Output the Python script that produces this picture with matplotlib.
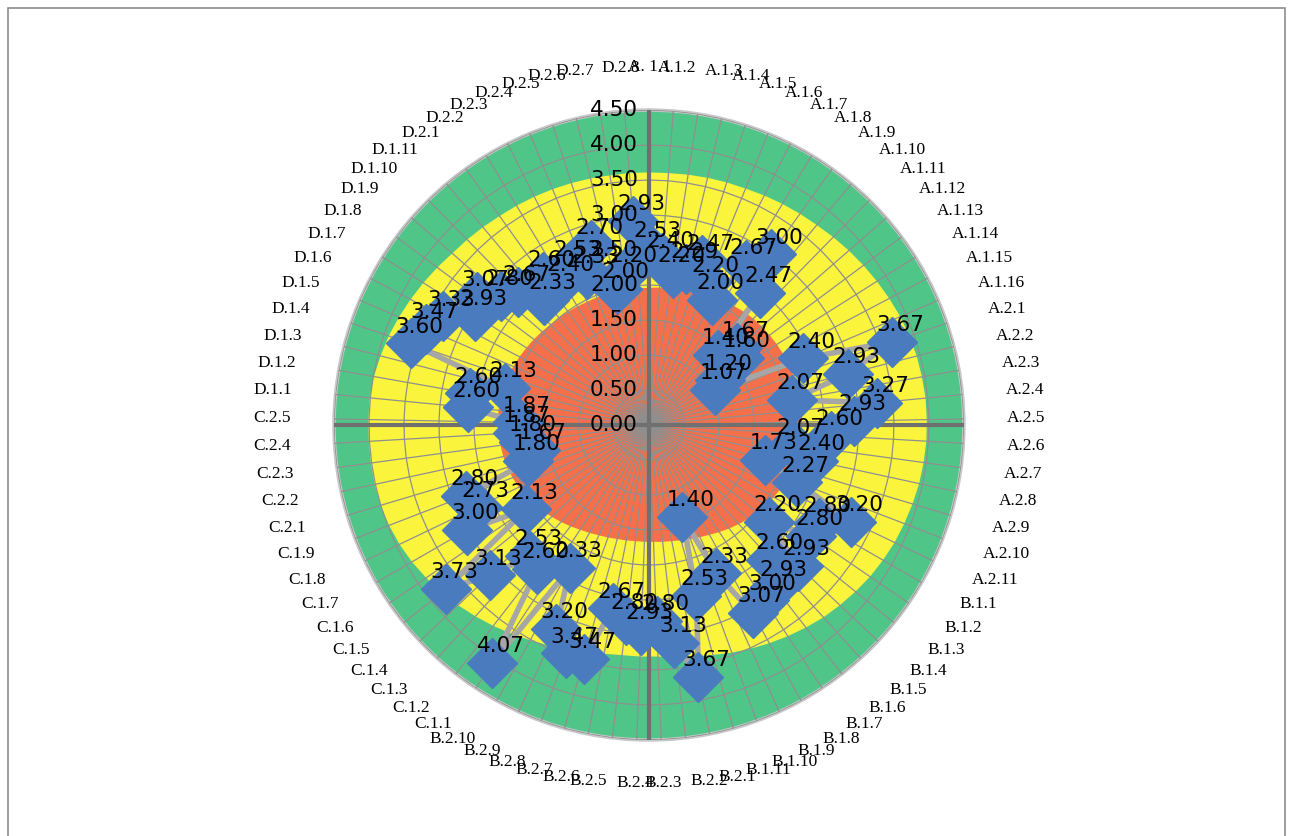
import numpy as np
import matplotlib.pyplot as plt
from matplotlib.patches import Rectangle

# --- categories (clockwise from top) ---
groups = [("A.1", 16), ("A.2", 11), ("B.1", 11), ("B.2", 10),
          ("C.1", 9), ("C.2", 5), ("D.1", 11), ("D.2", 8)]
categories = [f"{g}.{i}" for g, n in groups for i in range(1, n + 1)]
categories[0] = "A. 1.1"

# --- scores ---
a1 = [2.53, 2.40, 2.20, 2.29, 2.47, 2.20, 2.00, 2.67, 3.00, 2.47, 1.40, 1.67, 1.60, 1.20, 1.07, 2.40]
a2 = [3.67, 2.93, 2.07, 3.27, 2.93, 2.60, 2.07, 2.40, 1.73, 2.27, 3.20]
b1 = [2.80, 2.80, 2.20, 2.93, 2.60, 2.93, 3.00, 3.07, 2.33, 1.40, 2.53]
b2 = [3.67, 3.13, 2.80, 2.93, 2.80, 2.67, 3.47, 3.47, 3.20, 2.33]
c1 = [4.07, 2.60, 2.53, 3.13, 3.73, 2.13, 3.00, 2.73, 2.80]
c2 = [1.80, 1.67, 1.80, 1.87, 1.87]
d1 = [2.60, 2.60, 2.13, 3.60, 3.47, 3.33, 2.93, 3.07, 2.80, 2.67, 2.33]
d2 = [2.60, 2.40, 2.53, 2.33, 2.70, 2.00, 2.20, 2.93]
scores = a1 + a2 + b1 + b2 + c1 + c2 + d1 + d2

# --- background bands (red / yellow limits per category, green up to 4.5) ---
red_lim = [1.95, 1.96, 1.97, 1.98, 2.00, 2.02, 2.04, 2.06, 2.08, 2.10, 2.12, 2.13, 2.14, 2.15, 2.16, 2.17,
           2.17, 2.18, 2.18, 2.18, 2.18, 2.17, 2.16, 2.15, 2.13, 2.11, 2.08,
           2.05, 2.02, 1.98, 1.94, 1.90, 1.86, 1.82, 1.78, 1.75, 1.72, 1.70,
           1.68, 1.67, 1.66, 1.66, 1.66, 1.67, 1.68, 1.70, 1.72, 1.75,
           1.78, 1.82, 1.86, 1.90, 1.94, 1.98, 2.02, 2.05, 2.08,
           2.10, 2.12, 2.13, 2.14, 2.15,
           2.15, 2.14, 2.13, 2.12, 2.10, 2.08, 2.06, 2.04, 2.02, 2.00, 1.99,
           1.98, 1.97, 1.96, 1.96, 1.95, 1.95, 1.95, 1.95]
yellow_lim = [3.60, 3.60, 3.61, 3.62, 3.63, 3.64, 3.66, 3.68, 3.70, 3.72, 3.75, 3.78, 3.81, 3.84, 3.87, 3.90,
              3.92, 3.94, 3.95, 3.96, 3.96, 3.96, 3.95, 3.94, 3.92, 3.90, 3.88,
              3.85, 3.82, 3.78, 3.74, 3.70, 3.65, 3.60, 3.55, 3.50, 3.45, 3.40,
              3.36, 3.33, 3.30, 3.30, 3.30, 3.32, 3.35, 3.40, 3.45, 3.50,
              3.56, 3.62, 3.68, 3.74, 3.80, 3.85, 3.90, 3.94, 3.97,
              3.99, 4.00, 4.00, 4.00, 4.00,
              4.00, 3.98, 3.95, 3.92, 3.88, 3.84, 3.80, 3.76, 3.72, 3.70, 3.68,
              3.66, 3.65, 3.64, 3.63, 3.62, 3.61, 3.60, 3.60]
r_max = 4.5
r_ticks = [0.0, 0.5, 1.0, 1.5, 2.0, 2.5, 3.0, 3.5, 4.0, 4.5]

n = len(categories)
theta = np.arange(n) * 2 * np.pi / n
th_c = np.append(theta, theta[0])


def closed(v):
    return np.append(v, v[0])


fig = plt.figure(figsize=(12.93, 8.36), dpi=100)
fig.patches.append(Rectangle((8 / 1293, -0.02), 1277 / 1293, 828 / 836 + 0.02,
                             transform=fig.transFigure, fill=False,
                             ec="#8c8c8c", lw=1.2))

ax = fig.add_axes([0.2583, 0.1148, 0.4872, 0.7536], projection="polar")
ax.set_theta_zero_location("N")
ax.set_theta_direction(-1)
ax.set_ylim(0, r_max)
ax.set_xticks([])
ax.set_yticks([])
ax.grid(False)
ax.spines["polar"].set_color("#c8c8c8")
ax.spines["polar"].set_linewidth(2.5)

# bands
ax.fill(th_c, np.full(n + 1, r_max), color="#4fc688", zorder=1)
ax.fill(th_c, closed(yellow_lim), color="#fbf43d", zorder=2)
ax.fill(th_c, closed(red_lim), color="#f5704a", zorder=3)

# grid: polygon rings and spokes
for r in r_ticks[1:]:
    ax.plot(th_c, np.full(n + 1, r), color="#8f8f8f", lw=0.9, zorder=4)
for t in theta:
    ax.plot([t, t], [0, r_max], color="#8f8f8f", lw=0.9, zorder=4)
for t in (0, np.pi / 2, np.pi, 3 * np.pi / 2):
    ax.plot([t, t], [0, r_max], color="#707070", lw=3, zorder=5)

# series
ax.plot(th_c, closed(scores), color="#a6a6a6", lw=4, zorder=6)
ax.plot(theta, scores, ls="none", marker="D", ms=25, color="#4a7bbf", zorder=7)

for t, v in zip(theta, scores):
    ax.annotate(f"{v:.2f}", (t, v), xytext=(6, 12), textcoords="offset points",
                fontsize=15.5, ha="center", va="center", zorder=8)

# radial axis labels
for r in r_ticks:
    ax.annotate(f"{r:.2f}", (0, r), xytext=(-8, 0), textcoords="offset points",
                fontsize=15.5, ha="right", va="center", zorder=9)

# category labels
for t, lab in zip(theta, categories):
    s = np.sin(t)
    ha = "center" if abs(s) < 0.1 else ("left" if s > 0 else "right")
    ax.text(t, r_max + 0.62, lab, fontsize=12.5, ha=ha, va="center",
            fontfamily="Liberation Serif", zorder=9)

fig.savefig("out.png", dpi=100)
